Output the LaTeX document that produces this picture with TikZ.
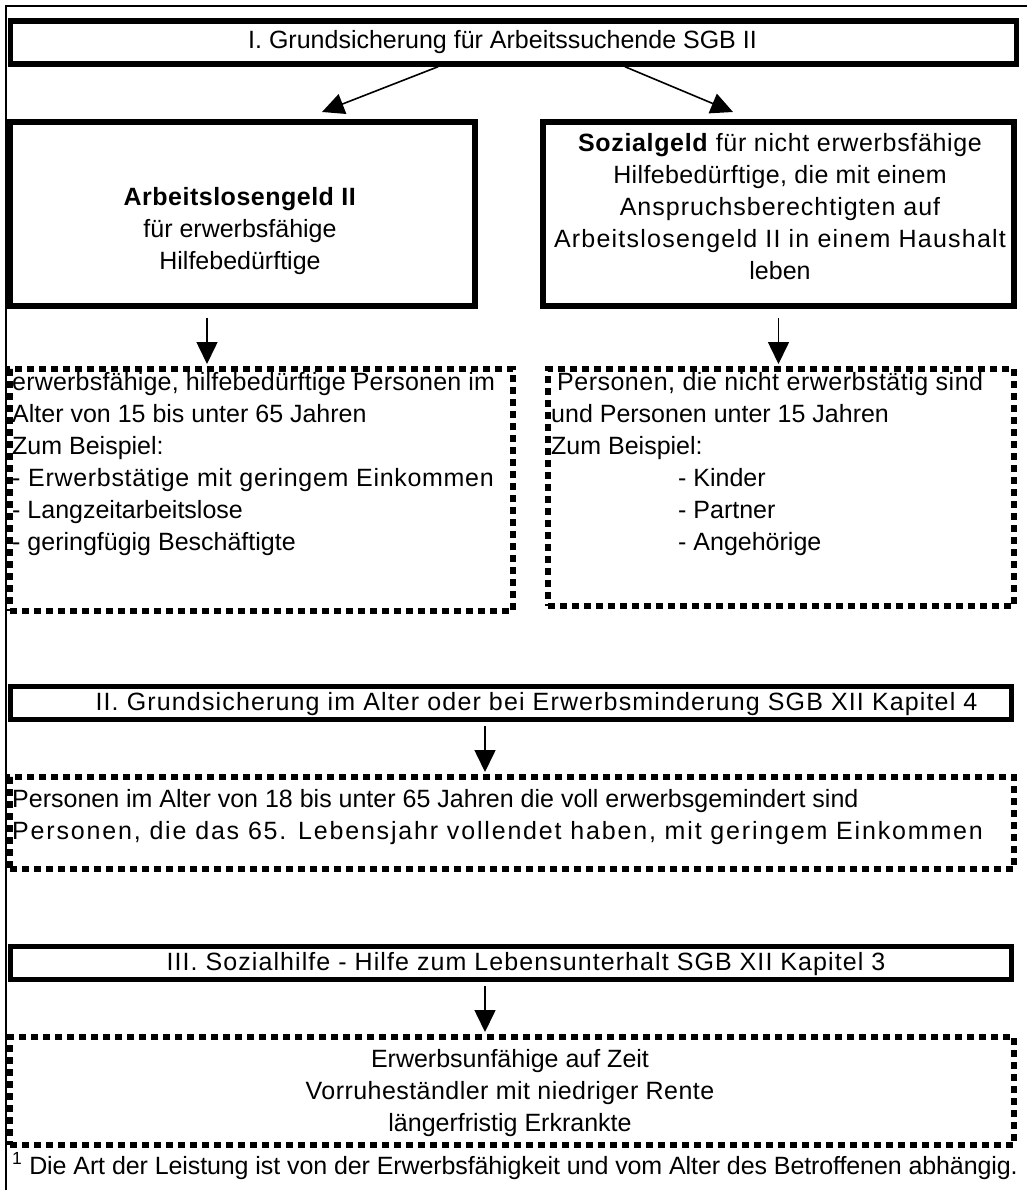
\documentclass[tikz,border=0pt]{standalone}
\usepackage{fontspec}
\setmainfont{Liberation Sans}
\usetikzlibrary{arrows.meta}
\newcommand{\lsp}[2]{{\addfontfeature{LetterSpace=#1}#2}}
\begin{document}
\begin{tikzpicture}[x=1pt,y=-1pt,
  thickbox/.style={draw, line width=5.5pt, rectangle, inner sep=0pt},
  dotbox/.style={draw, line width=6pt, dash pattern=on 7pt off 5pt, rectangle, inner sep=0pt},
  txt/.style={font=\fontsize{25}{32}\selectfont, inner sep=0pt},
  arr/.style={line width=1.6pt, -{Triangle[length=22pt,width=21pt]}},
]
\useasboundingbox (0,0) rectangle (1027,1190);
\draw[line width=2pt] (6,1190) -- (6,6) -- (1027,6);

% Section I
\node[thickbox, minimum width=1006pt, minimum height=43pt] (g1) at (513.5,42.5) {};
\node[txt] (g1t) at (502.5,42) {I. Grundsicherung für Arbeitssuchende SGB II};

\node[thickbox, minimum width=465pt, minimum height=184pt] (alg) at (242.5,214) {};
\node[txt, align=center] (algt) at (240,231) {\lsp{2}{\textbf{Arbeitslosengeld II}}\\für erwerbsfähige\\Hilfebedürftige};

\node[thickbox, minimum width=471pt, minimum height=184pt] (soz) at (778.5,214) {};
\node[txt, align=center] (sozt) at (780,207) {\lsp{2.6}{\textbf{Sozialgeld} für nicht erwerbsfähige}\\\lsp{1.5}{Hilfebedürftige, die mit einem}\\\lsp{4}{Anspruchsberechtigten auf}\\\lsp{4.9}{Arbeitslosengeld II in einem Haushalt}\\leben};

\coordinate (t1) at (322,112);
\coordinate (t2) at (733,112);
\draw[arr] ([xshift=-75.5pt]g1.south) -- (t1);
\draw[arr] ([xshift=111.5pt]g1.south) -- (t2);

\node[dotbox, minimum width=503pt, minimum height=242pt] (ddl) at (261.5,490) {};
\node[txt, align=left, anchor=north west] (ddlt) at (12,372) {\lsp{0.8}{erwerbsfähige, hilfebedürftige Personen im}\\Alter von 15 bis unter 65 Jahren\\Zum Beispiel:\\\lsp{2.8}{- Erwerbstätige mit geringem Einkommen}\\- Langzeitarbeitslose\\- geringfügig Beschäftigte};

\node[dotbox, minimum width=466pt, minimum height=237pt] (ddr) at (781,487.5) {};
\node[txt, align=left, anchor=north west] (ddrt) at (551,372) {\hspace*{6pt}\lsp{2}{Personen, die nicht erwerbstätig sind}\\und Personen unter 15 Jahren\\Zum Beispiel:\\\hspace*{127pt}- Kinder\\\hspace*{127pt}- Partner\\\hspace*{127pt}- Angehörige};

\draw[arr] ([xshift=-35.5pt,yshift=-9pt]alg.south) -- ([xshift=-54.5pt,yshift=2pt]ddl.north);
\draw[arr] ([yshift=-9pt]soz.south) -- ([xshift=-2.5pt,yshift=2pt]ddr.north);

% Section II
\node[thickbox, minimum width=1001pt, minimum height=33pt] (g2) at (511,703) {};
\node[txt] (g2t) at (536.5,704) {\lsp{4.6}{II. Grundsicherung im Alter oder bei Erwerbsminderung SGB XII Kapitel 4}};
\node[dotbox, minimum width=1004pt, minimum height=92pt] (dd2) at (512,823) {};
\node[txt, align=left, anchor=north west] (dd2t) at (12,789) {Personen im Alter von 18 bis unter 65 Jahren die voll erwerbsgemindert sind\\\lsp{7.3}{Personen, die das 65. Lebensjahr vollendet haben, mit geringem Einkommen}};
\draw[arr] ([xshift=-26pt,yshift=-4pt]g2.south) -- ([xshift=-27pt,yshift=2pt]dd2.north);

% Section III
\node[thickbox, minimum width=1001pt, minimum height=33pt] (g3) at (511,963) {};
\node[txt] (g3t) at (526,964) {\lsp{4.3}{III. Sozialhilfe - Hilfe zum Lebensunterhalt SGB XII Kapitel 3}};
\node[dotbox, minimum width=1004pt, minimum height=108pt] (dd3) at (512,1091) {};
\node[txt, align=center] (dd3t) at (510,1093) {Erwerbsunfähige auf Zeit\\\lsp{1.8}{Vorruheständler mit niedriger Rente}\\längerfristig Erkrankte};
\draw[arr] ([xshift=-26pt,yshift=-4pt]g3.south) -- ([xshift=-27pt,yshift=2pt]dd3.north);

% footnote
\node[txt, anchor=base west] (fn) at (12,1174) {\lsp{-0.4}{\textsuperscript{1} Die Art der Leistung ist von der Erwerbsfähigkeit und vom Alter des Betroffenen abhängig.}};
\end{tikzpicture}
\end{document}
